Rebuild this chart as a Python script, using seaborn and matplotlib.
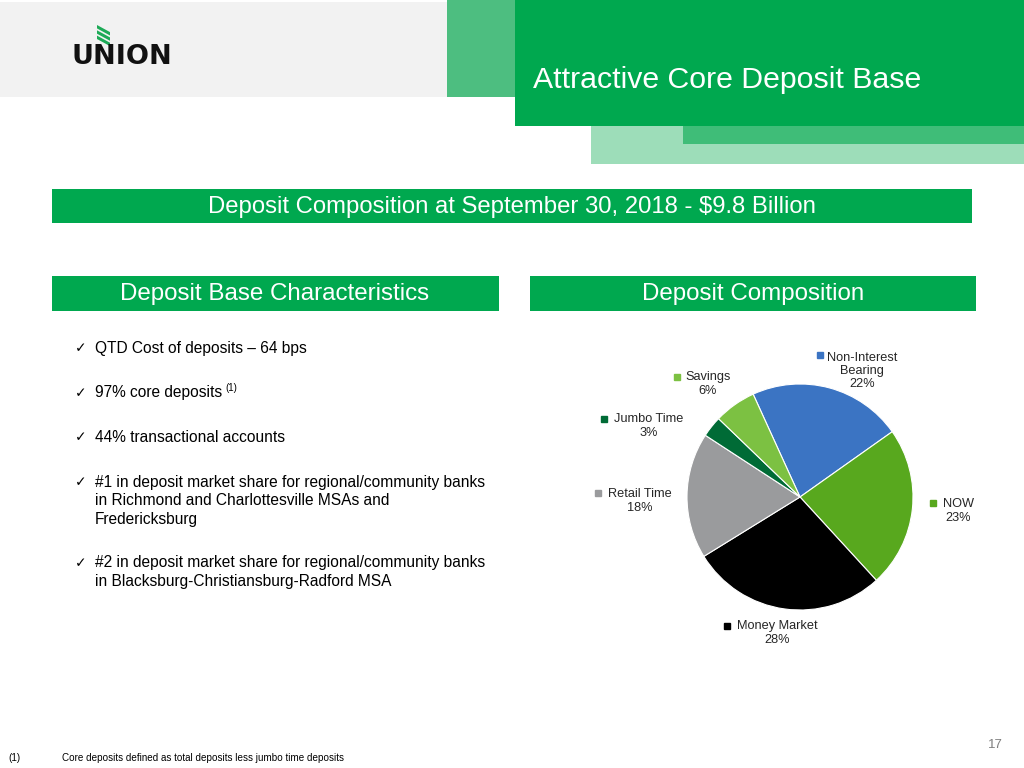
import matplotlib
matplotlib.use("Agg")
import matplotlib.pyplot as plt
import seaborn as sns
from matplotlib.patches import Rectangle, Polygon

# datos del grafico
categorias = ["Non-Interest\nBearing", "NOW", "Money Market", "Retail Time", "Jumbo Time", "Savings"]
porcentajes = [22, 23, 28, 18, 3, 6]
colores = ["#3B74C3", "#58A81E", "#000000", "#9A9B9D", "#006B36", "#7CC142"]

bullets = [
    ["QTD Cost of deposits \u2013 64 bps"],
    ["97% core deposits"],
    ["44% transactional accounts"],
    ["#1 in deposit market share for regional/community banks",
     "in Richmond and Charlottesville MSAs and",
     "Fredericksburg"],
    ["#2 in deposit market share for regional/community banks",
     "in Blacksburg-Christiansburg-Radford MSA"],
]

titulo = "Attractive Core Deposit Base"
barra = "Deposit Composition at September 30, 2018 - $9.8 Billion"
sub_izq = "Deposit Base Characteristics"
sub_der = "Deposit Composition"
nota = "Core deposits defined as total deposits less jumbo time deposits"
pagina = "17"

sns.set_theme(style="white")
plt.rcParams["font.family"] = ["Liberation Sans", "DejaVu Sans"]

W, H = 1024, 768
fig = plt.figure(figsize=(W / 100, H / 100), dpi=100)
fig.patch.set_facecolor("white")
renderer = fig.canvas.get_renderer()


def fx(x):
    return x / W


def fy(y):
    return 1 - y / H


def caja(x0, y0, x1, y1, color):
    fig.add_artist(Rectangle((fx(x0), fy(y1)), fx(x1 - x0), (y1 - y0) / H,
                             transform=fig.transFigure, facecolor=color,
                             edgecolor="none", zorder=0))


# encabezado
caja(0, 2, 447, 97, "#F2F2F2")
caja(447, 0, 1024, 97, "#4DBE80")
caja(591, 125, 1024, 164, "#9DDDB9")
caja(683, 125, 1024, 144, "#3FBD78")
caja(515, 0, 1024, 126, "#00A84F")
fig.text(fx(533), fy(80), titulo, color="white", fontsize=21.8,
         ha="left", va="center")

# logo
fig.text(fx(72), fy(63.5), "UNION", color="#111111", fontsize=19.5, fontweight="bold",
         ha="left", va="baseline", family=["DejaVu Sans"])
for k in range(3):
    y0 = 25 + k * 5.3
    pts = [(fx(97), fy(y0)), (fx(97), fy(y0 + 3.4)), (fx(110), fy(y0 + 10.5)),
           (fx(110), fy(y0 + 7.1))]
    fig.add_artist(Polygon(pts, closed=True, transform=fig.transFigure,
                           facecolor="#1DAA57", edgecolor="none"))

# barras verdes
caja(52, 189, 972, 223, "#00A84F")
fig.text(fx(512), fy(207), barra, color="white", fontsize=17.2, ha="center", va="center")
caja(52, 276, 499, 311, "#00A84F")
fig.text(fx(275), fy(294), sub_izq, color="white", fontsize=17.4, ha="center", va="center")
caja(530, 276, 976, 311, "#00A84F")
fig.text(fx(753), fy(294), sub_der, color="white", fontsize=17.4, ha="center", va="center")

# viñetas
y_bullets = [348, 393, 437, 482, 563]
paso = 18.7
for y, lineas in zip(y_bullets, bullets):
    fig.text(fx(75), fy(y), "\u2713", fontsize=10, ha="left", va="center",
             color="black", family=["DejaVu Sans"])
    for i, linea in enumerate(lineas):
        t = fig.text(fx(95), fy(y + i * paso), linea, fontsize=11.2, ha="left",
                     va="center", color="black")
    if lineas[0].startswith("97%"):
        bb = t.get_window_extent(renderer=renderer)
        fig.text(fx(bb.x1 + 3), fy(y - 5), "(1)", fontsize=7, ha="left",
                 va="center", color="black")

# pie
cx, cy, r = 800, 497, 113
ax_x0, ax_x1, ax_y0, ax_y1 = 560, 1020, 330, 670
ax = fig.add_axes([fx(ax_x0), fy(ax_y1), fx(ax_x1 - ax_x0), (ax_y1 - ax_y0) / H])
ax.pie(porcentajes, colors=colores, startangle=114.5, counterclock=False,
       radius=1, wedgeprops=dict(linewidth=0.8, edgecolor="white"))
ax.set_xlim((ax_x0 - cx) / r, (ax_x1 - cx) / r)
ax.set_ylim((cy - ax_y1) / r, (cy - ax_y0) / r)
ax.set_aspect("equal")
ax.axis("off")

# posiciones de etiquetas (px): centro del texto, posicion del cuadrito
pos_texto = [(862, 371), (958, 511), (777, 633), (640, 501), (649, 426), (708, 384)]
pos_cuadro = [(820, 355), (933, 503), (727, 626), (598, 493), (604, 419), (677, 377)]
for nombre, pct, col, (tx, ty), (qx, qy) in zip(categorias, porcentajes, colores,
                                                  pos_texto, pos_cuadro):
    ax.text((tx - cx) / r, (cy - ty) / r, f"{nombre}\n{pct}%", fontsize=9.2,
            ha="center", va="center", color="#262626", linespacing=1.15,
            multialignment="center")
    ax.plot((qx - cx) / r, (cy - qy) / r, marker="s", markersize=5, color=col,
            linestyle="none", clip_on=False)

# pie de pagina
fig.text(fx(8), fy(758), "(1)", fontsize=7.1, ha="left", va="center", color="black")
fig.text(fx(62), fy(758), nota, fontsize=7.1, ha="left", va="center", color="black")
fig.text(fx(1003), fy(745), pagina, fontsize=9.5, ha="right", va="center", color="#7F7F7F")

fig.savefig("out.png", dpi=100)
